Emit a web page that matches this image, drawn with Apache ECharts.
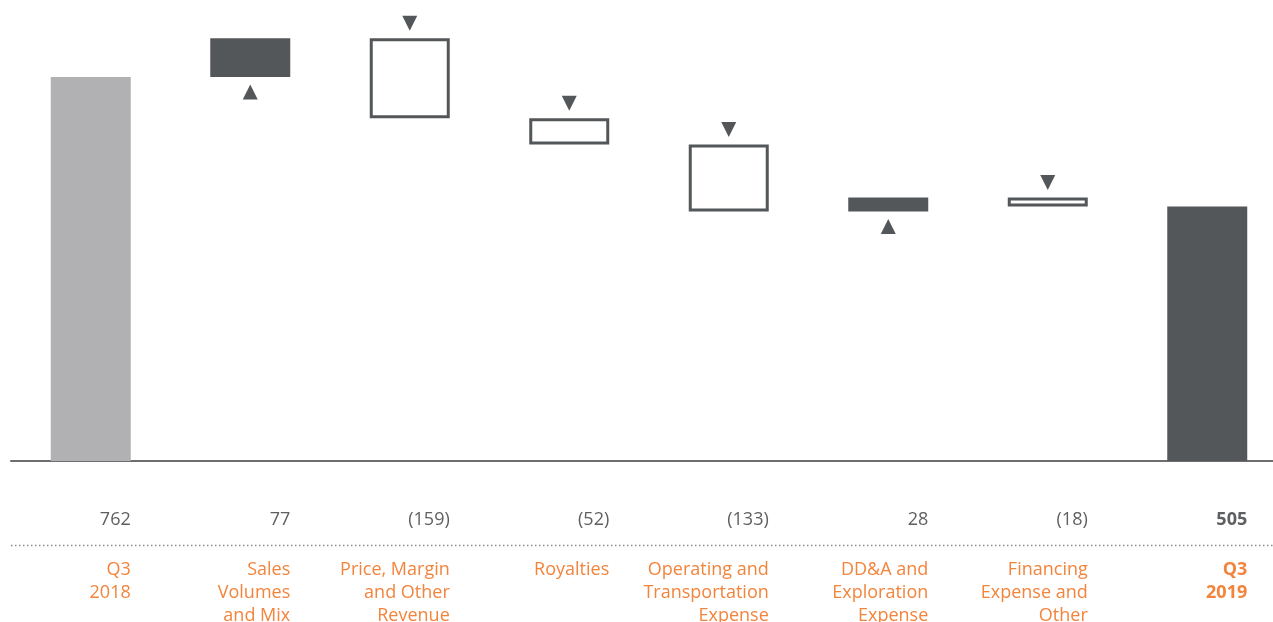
<!DOCTYPE html>
<html>
<head>
<meta charset="utf-8">
<title>Q3 2018 to Q3 2019 bridge</title>
<script src="https://cdn.jsdelivr.net/npm/echarts@6/dist/echarts.min.js"></script>
<style>
  html, body { margin: 0; padding: 0; background: #ffffff; }
  #chart { width: 1273px; height: 622px; }
</style>
</head>
<body>
<div id="chart"></div>
<script>
// Bridge categories, each line of a label is a separate entry
const categories = [
  ['Q3', '2018'],
  ['Sales', 'Volumes', 'and Mix'],
  ['Price, Margin', 'and Other', 'Revenue'],
  ['Royalties'],
  ['Operating and', 'Transportation', 'Expense'],
  ['DD&A and', 'Exploration', 'Expense'],
  ['Financing', 'Expense and', 'Other'],
  ['Q3', '2019']
];
// Opening total, changes, closing total
const values = [762, 77, -159, -52, -133, 28, -18, 505];
// Which entries are totals (full bars from zero)
const isTotal = [true, false, false, false, false, false, false, true];

const DARK = '#54575a';
const LIGHT = '#b1b1b3';
const ORANGE = '#f3843c';
const TEXT = '#5e5f61';

// Running base for the floating bars
const baseData = [];
const barData = [];
const upMarks = [];
const downMarks = [];
let running = 0;
values.forEach((v, i) => {
  if (isTotal[i]) {
    baseData.push(0);
    barData.push({
      value: v,
      itemStyle: { color: i === 0 ? LIGHT : DARK }
    });
    running = v;
  } else {
    const next = running + v;
    const lo = Math.min(running, next);
    baseData.push(lo);
    if (v >= 0) {
      barData.push({ value: v, itemStyle: { color: DARK } });
      upMarks.push([i, lo]);
    } else {
      barData.push({
        value: -v,
        itemStyle: { color: '#ffffff', borderColor: DARK, borderWidth: 3 }
      });
      downMarks.push([i, running]);
    }
    running = next;
  }
});

const fmtValue = v => (v < 0 ? '(' + (-v) + ')' : String(v));
const catKeys = categories.map((c, i) => String(i));

const chart = echarts.init(document.getElementById('chart'), null, { renderer: 'canvas' });

const FONT = '"Open Sans", "Noto Sans", sans-serif';

chart.setOption({
  animation: false,
  backgroundColor: '#ffffff',
  grid: [
    { left: 11, width: 1276, top: 7.5, height: 453.5, outerBoundsMode: 'none', containLabel: false },
    // label grid, shifted so ticks sit at the right edge of each bar
    { left: 51, width: 1276, top: 7.5, height: 453.5, outerBoundsMode: 'none', containLabel: false }
  ],
  xAxis: [
    {
      type: 'category', gridIndex: 0, data: catKeys,
      axisLine: { lineStyle: { color: '#6d6e70', width: 2 } },
      axisTick: { show: false },
      axisLabel: { show: false }
    },
    {
      type: 'category', gridIndex: 1, data: catKeys,
      axisLine: { show: false }, axisTick: { show: false },
      axisLabel: {
        interval: 0, align: 'right', margin: 50, hideOverlap: false,
        formatter: (k, i) => (isTotal[i] && i > 0 ? '{b|' : '{n|') + fmtValue(values[i]) + '}',
        rich: {
          n: { fontFamily: FONT, fontSize: 18, lineHeight: 18, color: TEXT },
          b: { fontFamily: FONT, fontSize: 18, lineHeight: 18, color: TEXT, fontWeight: 'bold' }
        }
      }
    },
    {
      type: 'category', gridIndex: 1, data: catKeys, position: 'bottom',
      axisLine: { show: false }, axisTick: { show: false },
      axisLabel: {
        interval: 0, align: 'right', margin: 97, hideOverlap: false,
        formatter: (k, i) => {
          const tag = isTotal[i] && i > 0 ? 'b' : 'n';
          return categories[i].map(s => '{' + tag + '|' + s + '}').join('\n');
        },
        rich: {
          n: { fontFamily: FONT, fontSize: 18, lineHeight: 23, color: ORANGE },
          b: { fontFamily: FONT, fontSize: 18, lineHeight: 23, color: ORANGE, fontWeight: 'bold' }
        }
      }
    }
  ],
  yAxis: [
    { type: 'value', gridIndex: 0, min: 0, max: 900, show: false },
    { type: 'value', gridIndex: 1, min: 0, max: 900, show: false }
  ],
  series: [
    {
      type: 'bar', stack: 'bridge', xAxisIndex: 0, yAxisIndex: 0,
      barWidth: 80, silent: true,
      itemStyle: { color: 'transparent' },
      data: baseData
    },
    {
      type: 'bar', stack: 'bridge', xAxisIndex: 0, yAxisIndex: 0,
      barWidth: 80, data: barData
    },
    {
      type: 'scatter', xAxisIndex: 0, yAxisIndex: 0,
      symbol: 'triangle', symbolSize: [15, 15], symbolOffset: [0, 15],
      itemStyle: { color: DARK, opacity: 1 },
      data: upMarks
    },
    {
      type: 'scatter', xAxisIndex: 0, yAxisIndex: 0,
      symbol: 'triangle', symbolSize: [15, 15], symbolRotate: 180, symbolOffset: [0, -15],
      itemStyle: { color: DARK, opacity: 1 },
      data: downMarks
    }
  ],
  graphic: [
    {
      type: 'line', silent: true,
      shape: { x1: 11, y1: 545.5, x2: 1273, y2: 545.5 },
      style: { stroke: '#8a8b8d', lineWidth: 1.5, lineDash: [1.5, 2.5] }
    }
  ]
});
</script>
</body>
</html>
